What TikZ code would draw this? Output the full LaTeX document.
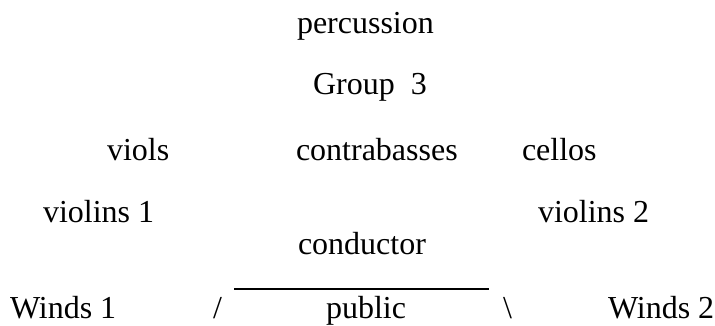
\documentclass[tikz,border=0pt]{standalone}
\usepackage{fontspec}
\setmainfont{Liberation Serif}
\begin{document}
\begin{tikzpicture}[x=1pt,y=-1pt,
  lbl/.style={inner sep=0pt,outer sep=0pt,anchor=base west,font=\fontsize{32}{38}\selectfont},
  rule/.style={line width=1.4pt}]
\useasboundingbox (0,0) rectangle (715,325);
\node[lbl] (perc) at (297,33) {percussion};
\node[lbl] (grp) at (313,94) {Group\ \ 3};
\node[lbl] (viols) at (107,160) {viols};
\node[lbl] (contra) at (296,160) {contrabasses};
\node[lbl] (cellos) at (522,160) {cellos};
\node[lbl] (vio1) at (43,222) {violins 1};
\node[lbl] (vio2) at (538,222) {violins 2};
\node[lbl] (cond) at (298,254) {conductor};
\node[lbl] (winds1) at (10,318) {Winds 1};
\node[lbl] (slash) at (213,318) {/};
\node[lbl] (public) at (326,318) {public};
\node[lbl] (bslash) at (503,318) {\textbackslash};
\node[lbl] (winds2) at (608,318) {Winds 2};
\coordinate (lineL) at (234,289);
\coordinate (lineR) at (489,289);
\draw[rule] (lineL) -- (lineR);
\end{tikzpicture}
\end{document}
